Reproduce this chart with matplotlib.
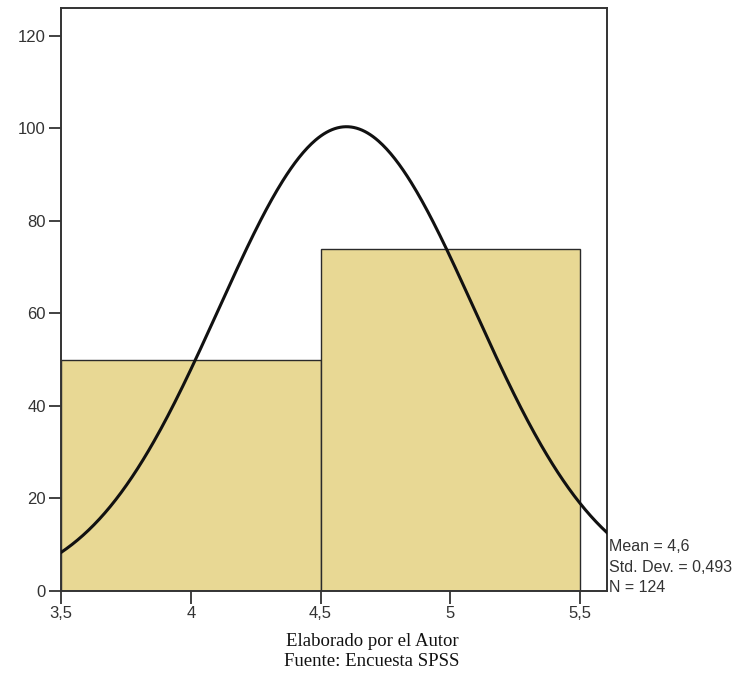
import numpy as np
import matplotlib
matplotlib.use("Agg")
import matplotlib.pyplot as plt

# Data
bin_left = [3.5, 4.5]
bin_width = [1.0, 1.0]
counts = [50, 74]
mean = 4.6
std_dev = 0.493
n = 124
x_ticks = [3.5, 4.0, 4.5, 5.0, 5.5]
x_tick_labels = ["3,5", "4", "4,5", "5", "5,5"]
y_ticks = [0, 20, 40, 60, 80, 100, 120]

fig = plt.figure(figsize=(7.53, 6.82), dpi=100)
ax = fig.add_axes([61/753, 1-591/682, (607-61)/753, (591-8)/682])

ax.bar(bin_left, counts, width=bin_width, align="edge",
       color="#e8d894", edgecolor="#2a2a2a", linewidth=1.0, zorder=2)

xs = np.linspace(3.5, 5.604, 400)
ys = n * 1.0 / (std_dev * np.sqrt(2 * np.pi)) * np.exp(-0.5 * ((xs - mean) / std_dev) ** 2)
ax.plot(xs, ys, color="#111111", linewidth=2.2, zorder=3)

ax.set_xlim(3.5, 5.604)
ax.set_ylim(0, 126)
ax.set_xticks(x_ticks)
ax.set_xticklabels(x_tick_labels)
ax.set_yticks(y_ticks)
for lab in ax.get_xticklabels() + ax.get_yticklabels():
    lab.set_fontfamily("Liberation Sans")
    lab.set_fontsize(12)
    lab.set_color("#333333")
ax.tick_params(axis="both", direction="out", length=9, width=1.3, color="#333333", pad=2)
for s in ax.spines.values():
    s.set_linewidth(1.4)
    s.set_color("#333333")

stats = f"Mean = 4,6\nStd. Dev. = 0,493\nN = {n}"
fig.text(609/753, 1-595/682, stats, ha="left", va="bottom",
         fontfamily="Liberation Sans", fontsize=11.5, color="#333333", linespacing=1.45)

fig.text(372/753, 1-642/682, "Elaborado por el Autor", ha="center", va="center",
         fontfamily="Liberation Serif", fontsize=13.5, color="#111111")
fig.text(372/753, 1-661/682, "Fuente: Encuesta SPSS", ha="center", va="center",
         fontfamily="Liberation Serif", fontsize=13.5, color="#111111")

fig.savefig("out.png", dpi=100)
